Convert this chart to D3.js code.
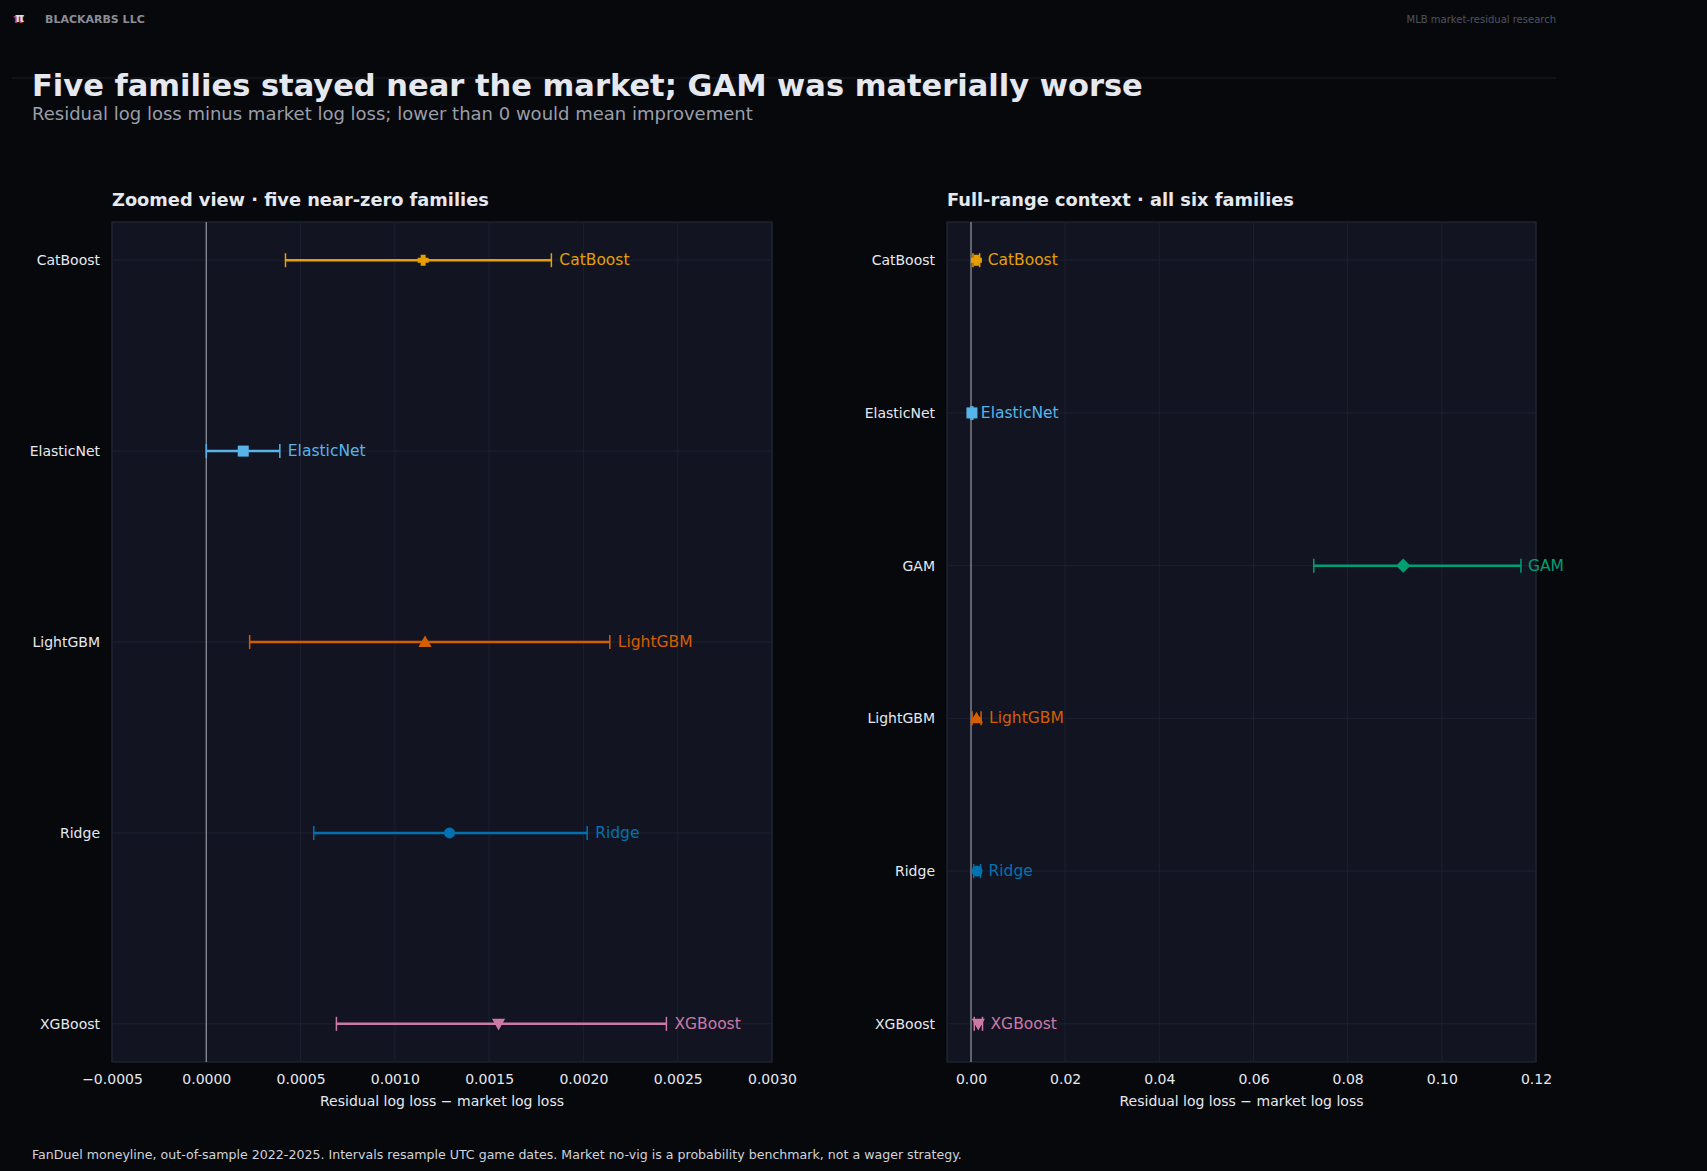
<!DOCTYPE html>
<html><head><meta charset="utf-8">
<script src="https://cdn.jsdelivr.net/npm/d3@7"></script>
<style>body{margin:0;background:#07080c;font-family:"DejaVu Sans",sans-serif}</style>
</head><body><svg id="c" width="1707" height="1171"></svg>
<script>
const families=["CatBoost","ElasticNet","GAM","LightGBM","Ridge","XGBoost"];
const means=[0.00115,0.000196,0.0918,0.00116,0.00129,0.00155];
const lows=[0.00042,0.0,0.0728,0.00023,0.00057,0.00069];
const highs=[0.00183,0.00039,0.1168,0.00214,0.00202,0.00244];
const colors=["#E69F00","#56B4E9","#009E73","#D55E00","#0072B2","#CC79A7"];
const symbols=["plus","square","diamond","triUp","circle","triDown"];
const leftTicks=[-0.0005,0,0.0005,0.001,0.0015,0.002,0.0025,0.003];
const rightTicks=[0,0.02,0.04,0.06,0.08,0.1,0.12];

const svg=d3.select("#c");
svg.append("rect").attr("width",1707).attr("height",1171).attr("fill","#07080c");
svg.append("text").attr("x",13).attr("y",23).attr("fill","#b03a5a").attr("font-size",13).attr("font-weight","bold").text("π");
svg.append("text").attr("x",15).attr("y",22).attr("fill","#d8dce6").attr("font-size",12).attr("font-weight","bold").text("π");
svg.append("text").attr("x",45).attr("y",23).attr("fill","#8a8d96").attr("font-size",11).attr("font-weight","bold").text("BLACKARBS LLC");
svg.append("text").attr("x",1556).attr("y",23).attr("text-anchor","end").attr("fill","#4f5360").attr("font-size",10).text("MLB market-residual research");
svg.append("line").attr("x1",12).attr("x2",1556).attr("y1",78).attr("y2",78).attr("stroke","#1a1d26");
svg.append("text").attr("x",32).attr("y",96).attr("fill","#e6e8f0").attr("font-size",30.5).attr("font-weight","bold").text("Five families stayed near the market; GAM was materially worse");
svg.append("text").attr("x",32).attr("y",120).attr("fill","#9a9ea8").attr("font-size",18).text("Residual log loss minus market log loss; lower than 0 would mean improvement");
svg.append("text").attr("x",32).attr("y",1159).attr("fill","#d0d3da").attr("font-size",12.6).text("FanDuel moneyline, out-of-sample 2022-2025. Intervals resample UTC game dates. Market no-vig is a probability benchmark, not a wager strategy.");

function marker(g,sym,x,y,c,s){
  let p;
  const r=s;
  if(sym==="circle") p=g.append("circle").attr("cx",x).attr("cy",y).attr("r",r);
  else if(sym==="square") p=g.append("rect").attr("x",x-r).attr("y",y-r).attr("width",2*r).attr("height",2*r);
  else if(sym==="diamond") p=g.append("path").attr("d",`M${x},${y-r*1.3}L${x+r*1.3},${y}L${x},${y+r*1.3}L${x-r*1.3},${y}Z`);
  else if(sym==="triUp") p=g.append("path").attr("d",`M${x},${y-r*1.2}L${x+r*1.2},${y+r*0.9}L${x-r*1.2},${y+r*0.9}Z`);
  else if(sym==="triDown") p=g.append("path").attr("d",`M${x},${y+r*1.2}L${x+r*1.2},${y-r*0.9}L${x-r*1.2},${y-r*0.9}Z`);
  else { const a=r*0.45; p=g.append("path").attr("d",`M${x-a},${y-r}H${x+a}V${y-a}H${x+r}V${y+a}H${x+a}V${y+r}H${x-a}V${y+a}H${x-r}V${y-a}H${x-a}Z`);}
  p.attr("fill",c);
}

function panel(opt){
  const {x0,x1,y0,y1,dom,ticks,fmt,idx,title,pad,ms}=opt;
  const g=svg.append("g");
  const x=d3.scaleLinear().domain(dom).range([x0,x1]);
  const names=idx.map(i=>families[i]);
  const y=d3.scalePoint().domain(names).range([y0,y1]).padding(pad);
  g.append("text").attr("x",x0).attr("y",y0-16).attr("fill","#e6e8f0").attr("font-size",17.8).attr("font-weight","bold").text(title);
  g.append("rect").attr("x",x0).attr("y",y0).attr("width",x1-x0).attr("height",y1-y0).attr("fill","#121521").attr("stroke","#262a3a");
  ticks.forEach(t=>g.append("line").attr("x1",x(t)).attr("x2",x(t)).attr("y1",y0).attr("y2",y1).attr("stroke","#1c2030"));
  names.forEach(n=>g.append("line").attr("x1",x0).attr("x2",x1).attr("y1",y(n)).attr("y2",y(n)).attr("stroke","#1c2030"));
  g.append("line").attr("x1",x(0)).attr("x2",x(0)).attr("y1",y0).attr("y2",y1).attr("stroke","#8a8d96").attr("stroke-width",1.3);
  const ax=g.append("g").attr("transform",`translate(0,${y1})`).call(d3.axisBottom(x).tickValues(ticks).tickFormat(fmt).tickSize(0).tickPadding(12));
  ax.select(".domain").remove();
  ax.selectAll("text").attr("fill","#e6e8f0").attr("font-size",14).attr("font-family","DejaVu Sans");
  const ay=g.append("g").attr("transform",`translate(${x0},0)`).call(d3.axisLeft(y).tickSize(0).tickPadding(12));
  ay.select(".domain").remove();
  ay.selectAll("text").attr("fill","#e6e8f0").attr("font-size",14).attr("font-family","DejaVu Sans");
  g.append("text").attr("x",(x0+x1)/2).attr("y",y1+44).attr("text-anchor","middle").attr("fill","#e6e8f0").attr("font-size",14).text("Residual log loss − market log loss");
  idx.forEach(i=>{
    const yy=y(families[i]),c=colors[i];
    g.append("line").attr("x1",x(lows[i])).attr("x2",x(highs[i])).attr("y1",yy).attr("y2",yy).attr("stroke",c).attr("stroke-width",2.5);
    [lows[i],highs[i]].forEach(v=>g.append("line").attr("x1",x(v)).attr("x2",x(v)).attr("y1",yy-7).attr("y2",yy+7).attr("stroke",c).attr("stroke-width",1.5));
    marker(g,symbols[i],x(means[i]),yy,c,ms);
    const lx=Math.min(x(highs[i])+8,x1-8);
    g.append("text").attr("x",lx).attr("y",yy+5).attr("fill",c).attr("font-size",15.5).text(families[i]);
  });
}
panel({x0:112,x1:772,y0:222,y1:1062,dom:[-0.0005,0.003],ticks:leftTicks,fmt:d=>d3.format(".4f")(d).replace("-","−"),idx:[0,1,3,4,5],title:"Zoomed view · five near-zero families",pad:0.2,ms:5.5});
panel({x0:947,x1:1536,y0:222,y1:1062,dom:[-0.0051,0.12],ticks:rightTicks,fmt:d3.format(".2f"),idx:[0,1,2,3,4,5],title:"Full-range context · all six families",pad:0.25,ms:5.5});
</script></body></html>
